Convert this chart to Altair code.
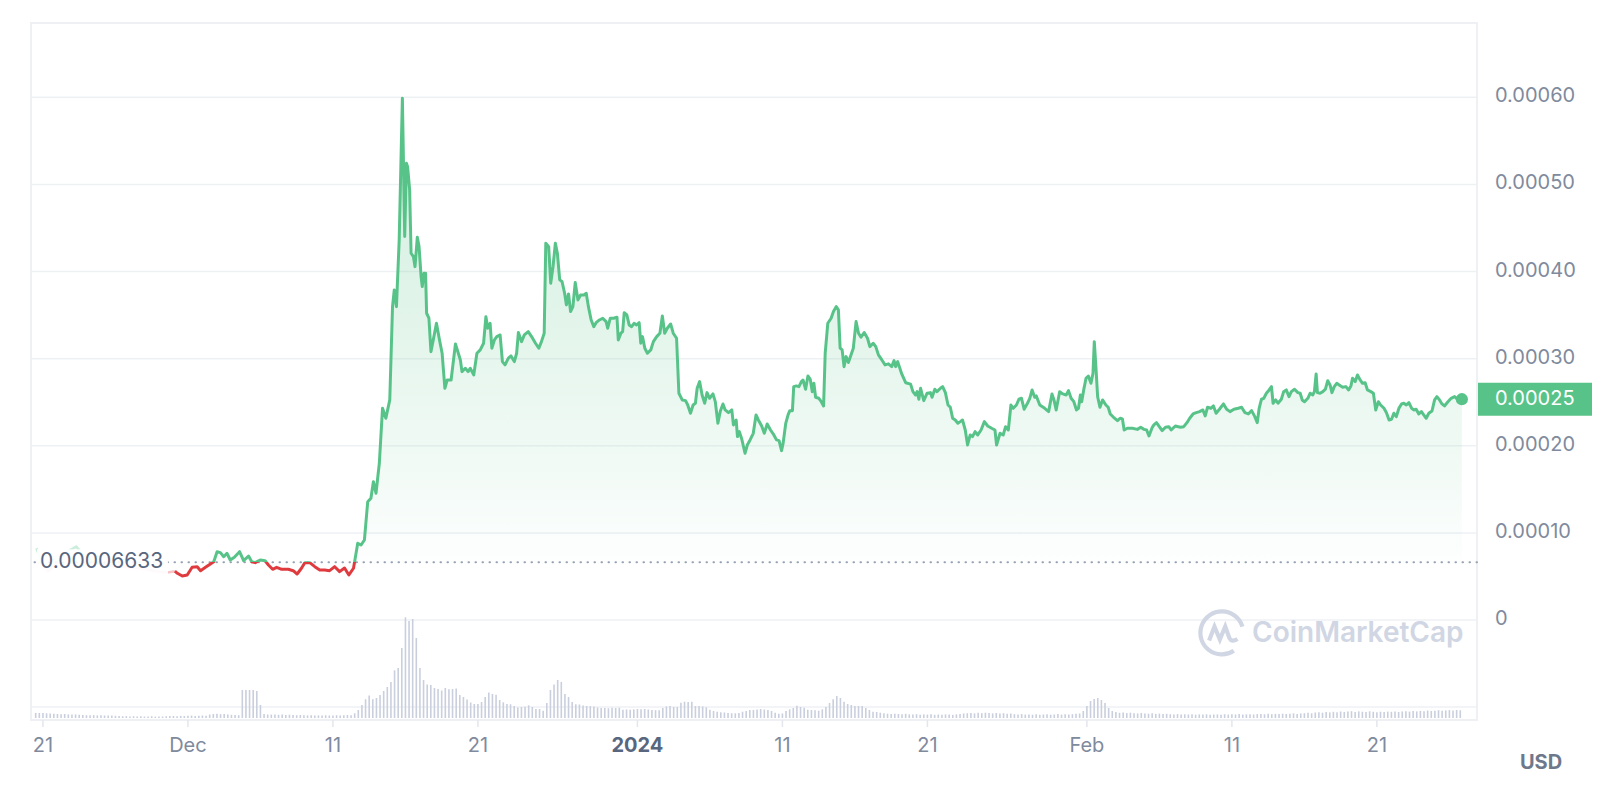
import altair as alt
import pandas as pd

START = pd.Timestamp("2023-11-21")
BASE = 0.00006633

# faded lead-in (days after 2023-11-21, price USD)
lead_days = [-0.45, -0.10, 0.35, 0.90, 1.50, 2.30, 2.90, 3.60, 4.50, 5.50, 6.50, 7.20, 7.90, 8.60, 9.10]
lead_price = [8.23e-5, 6.70e-5, 5.60e-5, 6.40e-5, 7.69e-5, 8.42e-5, 7.27e-5, 6.60e-5, 6.30e-5,
              6.10e-5, 6.00e-5, 5.80e-5, 5.55e-5, 5.45e-5, 5.60e-5]

# main series (days after 2023-11-21, price USD)
days = [
    9.10, 9.27, 9.61, 9.95, 10.29, 10.64, 10.87, 11.21, 11.55, 11.78, 12.01, 12.24, 12.47, 12.69, 12.92,
    13.20, 13.56, 13.84, 14.18, 14.40, 14.64, 14.98, 15.32, 15.55, 15.84, 16.12, 16.46, 16.92, 17.26,
    17.53, 17.83, 18.06, 18.40, 18.75, 19.09, 19.43, 19.77, 20.12, 20.46, 20.80, 21.10, 21.42, 21.71,
    21.94, 22.17, 22.40, 22.62, 22.79, 22.97, 23.20, 23.42, 23.65, 23.92, 24.11, 24.23, 24.38, 24.57,
    24.79, 24.95, 25.07, 25.15, 25.29, 25.39, 25.55, 25.66, 25.82, 25.94, 26.08, 26.16, 26.28, 26.39,
    26.46, 26.62, 26.76, 26.92, 27.14, 27.35, 27.53, 27.72, 27.88, 28.15, 28.45, 28.79, 28.90, 29.13,
    29.32, 29.47, 29.71, 29.93, 30.16, 30.39, 30.55, 30.68, 30.84, 30.96, 31.14, 31.30, 31.53, 31.69,
    31.87, 32.10, 32.28, 32.51, 32.67, 32.79, 33.01, 33.20, 33.47, 33.70, 33.97, 34.20, 34.38, 34.57,
    34.68, 34.88, 35.02, 35.18, 35.34, 35.48, 35.64, 35.80, 35.98, 36.10, 36.25, 36.39, 36.55, 36.71,
    36.90, 37.08, 37.31, 37.47, 37.62, 37.81, 37.99, 38.15, 38.38, 38.61, 38.84, 38.95, 39.13, 39.36,
    39.59, 39.68, 39.86, 39.98, 40.09, 40.27, 40.43, 40.60, 40.77, 40.94, 41.12, 41.23, 41.35, 41.51,
    41.69, 41.92, 42.10, 42.33, 42.55, 42.72, 42.88, 43.06, 43.29, 43.47, 43.70, 43.86, 44.09, 44.32,
    44.47, 44.66, 44.84, 45.00, 45.12, 45.29, 45.46, 45.64, 45.80, 45.98, 46.21, 46.37, 46.55, 46.71,
    46.90, 47.05, 47.28, 47.51, 47.62, 47.81, 47.90, 48.03, 48.20, 48.42, 48.58, 48.77, 48.99, 49.18,
    49.34, 49.57, 49.75, 49.95, 50.18, 50.41, 50.59, 50.77, 50.94, 51.05, 51.23, 51.39, 51.51, 51.69,
    51.78, 51.96, 52.14, 52.31, 52.42, 52.60, 52.76, 52.92, 53.06, 53.17, 53.29, 53.51, 53.68, 53.84,
    53.95, 54.13, 54.36, 54.52, 54.71, 54.86, 54.98, 55.12, 55.25, 55.39, 55.55, 55.73, 55.89, 56.08,
    56.25, 56.42, 56.64, 56.87, 57.03, 57.26, 57.44, 57.62, 57.86, 58.08, 58.31, 58.54, 58.70, 58.81,
    58.95, 59.04, 59.23, 59.50, 59.84, 60.00, 60.18, 60.29, 60.41, 60.53, 60.75, 60.98, 61.21, 61.32,
    61.51, 61.66, 61.90, 62.05, 62.24, 62.42, 62.58, 62.74, 62.92, 63.10, 63.27, 63.42, 63.61, 63.77,
    63.95, 64.11, 64.29, 64.47, 64.70, 64.93, 65.16, 65.43, 65.66, 65.77, 66.01, 66.23, 66.39, 66.58,
    66.76, 66.92, 67.14, 67.31, 67.49, 67.67, 67.90, 68.06, 68.22, 68.40, 68.51, 68.75, 69.09, 69.36,
    69.59, 69.73, 69.88, 70.12, 70.34, 70.57, 70.73, 70.91, 71.10, 71.28, 71.42, 71.55, 71.64, 71.78,
    71.94, 72.10, 72.28, 72.42, 72.51, 72.62, 72.74, 72.90, 73.08, 73.31, 73.47, 73.61, 73.84, 74.11,
    74.29, 74.45, 74.57, 74.79, 75.14, 75.48, 75.71, 75.94, 76.12, 76.28, 76.51, 76.62, 76.80, 77.03,
    77.19, 77.42, 77.65, 77.81, 78.10, 78.45, 78.68, 78.90, 79.09, 79.32, 79.54, 79.77, 80.00, 80.16,
    80.32, 80.55, 80.73, 80.91, 81.14, 81.42, 81.64, 81.87, 82.14, 82.44, 82.67, 82.90, 83.13, 83.36,
    83.58, 83.75, 83.88, 84.04, 84.20, 84.38, 84.57, 84.73, 84.84, 85.02, 85.18, 85.41, 85.57, 85.75,
    85.94, 86.10, 86.32, 86.55, 86.71, 86.85, 87.01, 87.24, 87.40, 87.58, 87.69, 87.81, 87.90, 88.08,
    88.27, 88.45, 88.61, 88.77, 88.90, 89.06, 89.23, 89.40, 89.64, 89.86, 90.05, 90.21, 90.32, 90.50,
    90.66, 90.82, 91.01, 91.19, 91.35, 91.58, 91.76, 91.92, 92.10, 92.26, 92.49, 92.66, 92.84, 93.01,
    93.17, 93.34, 93.52, 93.70, 93.86, 94.03, 94.21, 94.40, 94.54, 94.71, 94.89, 95.07, 95.23, 95.40,
    95.58, 95.80, 95.98, 96.14, 96.32, 96.49, 96.66, 96.90, 97.12, 97.36, 97.62, 97.86,
]
price = [
    5.60e-5, 5.36e-5, 5.05e-5, 5.17e-5, 6.05e-5, 6.12e-5, 5.66e-5, 6.05e-5, 6.43e-5, 6.69e-5, 7.84e-5,
    7.73e-5, 7.27e-5, 7.66e-5, 6.89e-5, 7.20e-5, 7.84e-5, 6.81e-5, 7.35e-5, 6.69e-5, 6.58e-5, 6.89e-5,
    6.81e-5, 6.31e-5, 5.82e-5, 6.05e-5, 5.82e-5, 5.82e-5, 5.66e-5, 5.28e-5, 5.94e-5, 6.58e-5, 6.58e-5,
    6.12e-5, 5.74e-5, 5.74e-5, 5.66e-5, 6.12e-5, 5.55e-5, 5.97e-5, 5.17e-5, 5.94e-5, 8.81e-5, 8.61e-5,
    9.18e-5, 1.358e-4, 1.397e-4, 1.588e-4, 1.455e-4, 1.799e-4, 2.431e-4, 2.316e-4, 2.526e-4, 3.597e-4,
    3.789e-4, 3.597e-4, 4.363e-4, 5.99e-4, 4.401e-4, 5.243e-4, 5.20e-4, 4.94e-4, 4.21e-4, 4.171e-4,
    4.056e-4, 4.394e-4, 4.286e-4, 3.941e-4, 3.827e-4, 3.98e-4, 3.98e-4, 3.521e-4, 3.464e-4, 3.08e-4,
    3.215e-4, 3.406e-4, 3.215e-4, 3.062e-4, 2.66e-4, 2.755e-4, 2.755e-4, 3.169e-4, 2.985e-4, 2.851e-4,
    2.89e-4, 2.851e-4, 2.89e-4, 2.813e-4, 3.062e-4, 3.10e-4, 3.177e-4, 3.482e-4, 3.349e-4, 3.406e-4,
    3.12e-4, 3.215e-4, 3.253e-4, 3.272e-4, 2.966e-4, 2.928e-4, 3.005e-4, 3.031e-4, 2.966e-4, 3.062e-4,
    3.299e-4, 3.195e-4, 3.272e-4, 3.31e-4, 3.253e-4, 3.177e-4, 3.12e-4, 3.195e-4, 3.292e-4, 4.325e-4,
    4.286e-4, 3.866e-4, 4.056e-4, 4.325e-4, 4.21e-4, 3.904e-4, 3.885e-4, 3.751e-4, 3.617e-4, 3.743e-4,
    3.54e-4, 3.597e-4, 3.873e-4, 3.674e-4, 3.731e-4, 3.731e-4, 3.751e-4, 3.597e-4, 3.444e-4, 3.367e-4,
    3.413e-4, 3.444e-4, 3.464e-4, 3.425e-4, 3.349e-4, 3.464e-4, 3.464e-4, 3.476e-4, 3.215e-4, 3.292e-4,
    3.31e-4, 3.528e-4, 3.502e-4, 3.387e-4, 3.367e-4, 3.406e-4, 3.387e-4, 3.413e-4, 3.177e-4, 3.253e-4,
    3.12e-4, 3.062e-4, 3.10e-4, 3.195e-4, 3.253e-4, 3.292e-4, 3.49e-4, 3.292e-4, 3.349e-4, 3.398e-4,
    3.292e-4, 3.234e-4, 2.603e-4, 2.526e-4, 2.518e-4, 2.468e-4, 2.373e-4, 2.468e-4, 2.488e-4, 2.66e-4,
    2.736e-4, 2.583e-4, 2.488e-4, 2.61e-4, 2.545e-4, 2.595e-4, 2.506e-4, 2.258e-4, 2.392e-4, 2.48e-4,
    2.411e-4, 2.38e-4, 2.411e-4, 2.239e-4, 2.296e-4, 2.105e-4, 2.162e-4, 2.075e-4, 1.914e-4, 2.009e-4,
    2.067e-4, 2.143e-4, 2.354e-4, 2.296e-4, 2.227e-4, 2.143e-4, 2.25e-4, 2.181e-4, 2.124e-4, 2.067e-4,
    2.059e-4, 1.944e-4, 2.03e-4, 2.258e-4, 2.354e-4, 2.403e-4, 2.403e-4, 2.679e-4, 2.687e-4, 2.679e-4,
    2.736e-4, 2.755e-4, 2.649e-4, 2.801e-4, 2.763e-4, 2.621e-4, 2.717e-4, 2.557e-4, 2.545e-4, 2.506e-4,
    2.457e-4, 3.062e-4, 3.406e-4, 3.464e-4, 3.54e-4, 3.597e-4, 3.559e-4, 3.12e-4, 3.10e-4, 2.908e-4,
    3.023e-4, 2.955e-4, 3.043e-4, 3.12e-4, 3.425e-4, 3.292e-4, 3.246e-4, 3.299e-4, 3.234e-4, 3.138e-4,
    3.177e-4, 3.138e-4, 3.043e-4, 2.985e-4, 2.928e-4, 2.94e-4, 2.908e-4, 2.978e-4, 2.908e-4, 2.966e-4,
    2.92e-4, 2.824e-4, 2.724e-4, 2.708e-4, 2.621e-4, 2.583e-4, 2.621e-4, 2.534e-4, 2.66e-4, 2.518e-4,
    2.603e-4, 2.61e-4, 2.557e-4, 2.649e-4, 2.621e-4, 2.66e-4, 2.679e-4, 2.61e-4, 2.468e-4, 2.442e-4,
    2.316e-4, 2.296e-4, 2.258e-4, 2.277e-4, 2.296e-4, 2.181e-4, 2.009e-4, 2.124e-4, 2.105e-4, 2.162e-4,
    2.124e-4, 2.181e-4, 2.277e-4, 2.227e-4, 2.201e-4, 2.181e-4, 2.009e-4, 2.143e-4, 2.124e-4, 2.219e-4,
    2.181e-4, 2.468e-4, 2.43e-4, 2.468e-4, 2.534e-4, 2.545e-4, 2.419e-4, 2.488e-4, 2.545e-4, 2.641e-4,
    2.557e-4, 2.572e-4, 2.468e-4, 2.43e-4, 2.392e-4, 2.595e-4, 2.526e-4, 2.411e-4, 2.621e-4, 2.595e-4,
    2.583e-4, 2.633e-4, 2.545e-4, 2.506e-4, 2.411e-4, 2.43e-4, 2.583e-4, 2.506e-4, 2.641e-4, 2.775e-4,
    2.801e-4, 2.717e-4, 2.832e-4, 3.195e-4, 2.908e-4, 2.564e-4, 2.442e-4, 2.526e-4, 2.468e-4, 2.442e-4,
    2.365e-4, 2.327e-4, 2.288e-4, 2.316e-4, 2.308e-4, 2.181e-4, 2.201e-4, 2.201e-4, 2.188e-4, 2.212e-4,
    2.188e-4, 2.181e-4, 2.113e-4, 2.212e-4, 2.239e-4, 2.265e-4, 2.212e-4, 2.174e-4, 2.212e-4, 2.219e-4,
    2.181e-4, 2.227e-4, 2.212e-4, 2.219e-4, 2.265e-4, 2.316e-4, 2.365e-4, 2.38e-4, 2.392e-4, 2.411e-4,
    2.342e-4, 2.442e-4, 2.43e-4, 2.457e-4, 2.373e-4, 2.419e-4, 2.48e-4, 2.419e-4, 2.392e-4, 2.419e-4,
    2.43e-4, 2.442e-4, 2.38e-4, 2.365e-4, 2.403e-4, 2.334e-4, 2.265e-4, 2.43e-4, 2.534e-4, 2.545e-4,
    2.603e-4, 2.641e-4, 2.679e-4, 2.488e-4, 2.526e-4, 2.488e-4, 2.534e-4, 2.621e-4, 2.641e-4, 2.564e-4,
    2.621e-4, 2.649e-4, 2.61e-4, 2.603e-4, 2.526e-4, 2.506e-4, 2.545e-4, 2.603e-4, 2.583e-4, 2.621e-4,
    2.824e-4, 2.61e-4, 2.603e-4, 2.621e-4, 2.649e-4, 2.747e-4, 2.698e-4, 2.61e-4, 2.679e-4, 2.717e-4,
    2.698e-4, 2.672e-4, 2.679e-4, 2.641e-4, 2.687e-4, 2.775e-4, 2.736e-4, 2.813e-4, 2.763e-4, 2.717e-4,
    2.724e-4, 2.641e-4, 2.621e-4, 2.603e-4, 2.411e-4, 2.506e-4, 2.468e-4, 2.43e-4, 2.38e-4, 2.296e-4,
    2.304e-4, 2.373e-4, 2.334e-4, 2.43e-4, 2.48e-4, 2.488e-4, 2.468e-4, 2.495e-4, 2.43e-4, 2.411e-4,
    2.419e-4, 2.365e-4, 2.392e-4, 2.354e-4, 2.316e-4, 2.373e-4, 2.399e-4, 2.526e-4, 2.564e-4, 2.526e-4,
    2.48e-4, 2.457e-4, 2.506e-4, 2.545e-4, 2.564e-4, 2.526e-4, 2.534e-4,
]

# volume (relative units), 4 samples per day starting 2023-11-20 12:00
vol = [
    5, 5,
    5, 4.7, 4.5, 4.2,   4, 3.8, 4, 3.6,   3.5, 3.6, 3.2, 3,   2.8, 2.7, 2.9, 2.6,
    2.7, 2.5, 2.4, 2.6,   2.2, 2, 1.8, 1.9,   1.6, 1.8, 1.5, 1.7,   1.5, 1.6, 1.8, 1.4,
    1.6, 1.5, 1.7, 1.9,   2, 1.8, 2.1, 1.9,   2.2, 2.4, 2, 2.3,   2.5, 2.2, 3.5, 4,
    4.2, 3.8, 4, 3.5,   3.2, 3, 2.8, 28,   28, 28, 28, 27,   13, 4, 3.5, 3.4,
    3.6, 3.2, 3.5, 3,   3.3, 3, 2.8, 3,   2.7, 2.6, 2.8, 2.5,   2.6, 2.4, 2.7, 2.5,
    2.6, 2.8, 2.5, 2.7,   3, 2.8, 4.7, 8,   13, 18.7, 22.5, 18.7,   20, 23, 27, 31,
    36, 47.7, 50, 70,   100.7, 97, 99, 80,   50, 38, 33.5, 33,   30, 29, 27.5, 30,
    28.7, 29, 29.5, 23,   21, 18.5, 15.5, 14,   14, 16, 21, 25.5,   24, 23.3, 18, 15.7,
    14, 13.7, 12, 10.5,   11, 11.3, 12.7, 11,   9, 9, 7.3, 15,   28, 33.5, 38, 36,
    24, 21, 16, 13.7,   13.5, 12.5, 12, 11.8,   11.5, 10.5, 10, 10,   9.7, 10.3, 10, 10.3,
    8.3, 8.5, 8.3, 8.6,   9, 8.8, 9, 8.5,   8, 7.8, 7.7, 10,   11.5, 12, 11, 11,
    15.3, 16.3, 16, 16.3,   12, 12, 11.5, 10.7,   8.3, 7, 6.3, 5.7,   5.5, 5, 4.7, 4.7,
    5, 6.3, 7, 8,   8, 8.5, 9, 8.5,   8, 7, 5.3, 4.3,   4.5, 7, 8.7, 10,
    12.3, 11, 10.3, 8.3,   8, 7.8, 7.3, 8.7,   11, 15, 18.7, 22,   20, 16.3, 14, 13,
    12, 12, 12, 10,   8, 6.3, 6, 5.3,   4.7, 4.3, 4, 4.3,   4, 3.8, 4.2, 3.6,
    3.5, 3.8, 3.2, 3.6,   3.4, 3.7, 3.2, 3.5,   3.3, 3.6, 3.4, 3.1,   3.6, 3.9, 4.5, 4.8,
    5, 4.6, 5.2, 4.8,   5.3, 4.9, 4.6, 5,   4.4, 4.8, 4.2, 4.5,   3.8, 3.5, 3.9, 3.4,
    3.6, 3.3, 3.7, 3.2,   3.5, 3.8, 3.3, 3.6,   3.9, 3.4, 3.7, 3.5,   3.8, 4.2, 4.5, 7,
    12, 17, 19, 20,   18, 15, 10, 7,   6, 5.2, 5.6, 4.9,   5.3, 4.8, 4.5, 5,
    4.6, 4.3, 4.7, 4.1,   4.4, 3.9, 4.2, 3.8,   3.6, 3.9, 3.4, 3.7,   3.5, 3.8, 3.3, 3.6,
    3.4, 3.7, 3.2, 3.5,   3.6, 3.3, 3.8, 3.4,   3.7, 3.5, 3.9, 3.4,   3.6, 3.8, 3.5, 3.9,
    4, 3.7, 4.2, 3.8,   4.1, 3.9, 4.3, 4,   4.2, 4.6, 4.1, 4.5,   4.8, 5.2, 4.7, 5.5,
    5.8, 5.3, 6, 5.6,   6.2, 5.8, 6.5, 6,   6.4, 6.8, 6.1, 6.6,   6.3, 6, 6.7, 6.2,
    5.8, 6.3, 5.9, 6.4,   6.2, 6.6, 6, 6.5,   6.8, 6.4, 7, 6.6,   7.1, 6.7, 7.4, 7,
    7.3, 7.8, 7.2, 7.6,   7.9, 7.4, 8, 7.7,
]
vol_days = [-0.5 + 0.25 * i for i in range(len(vol))]

# axis ticks
x_tick_dates = ["2023-11-21", "2023-12-01", "2023-12-11", "2023-12-21", "2024-01-01",
                "2024-01-11", "2024-01-21", "2024-02-01", "2024-02-11", "2024-02-21"]
x_tick_labels = ["21", "Dec", "11", "21", "2024", "11", "21", "Feb", "11", "21"]
y_grid_values = [-0.0001, 0.0, 0.0001, 0.0002, 0.0003, 0.0004, 0.0005, 0.0006]
y_tick_labels = ["", "0", "0.00010", "0.00020", "0.00030", "0.00040", "0.00050", "0.00060"]

GREEN = "#58c389"
RED = "#df3b3f"
GRID = "#eef1f4"
LABEL = "#808a9d"
WM = "#d0d6e3"
H = 697


def ts(d):
    return (START + pd.Timedelta(days=d)).strftime("%Y-%m-%dT%H:%M:%S")


price_df = pd.DataFrame({"t": [ts(d) for d in days], "price": price})
lead_df = pd.DataFrame({"t": [ts(d) for d in lead_days], "price": lead_price})
vol_df = pd.DataFrame({"t": [ts(d) for d in vol_days], "vol": vol})
last_df = price_df.tail(1)
one = pd.DataFrame({"a": [0]})
xt_df = pd.DataFrame({"t": [d + "T00:00:00" for d in x_tick_dates], "lab": x_tick_labels,
                      "bold": [lab == "2024" for lab in x_tick_labels]})
yg_df = pd.DataFrame({"v": y_grid_values, "lab": y_tick_labels})

x_scale = alt.Scale(
    domain=[alt.DateTime(year=2023, month=11, date=20, hours=12, minutes=30),
            alt.DateTime(year=2024, month=2, date=27, hours=13, minutes=26)],
    nice=False,
)
price_scale = alt.Scale(domain=[-1.1478e-4, 6.8526e-4], nice=False, zero=False)
X = alt.X("t:T", scale=x_scale, axis=None)


def vgrad(stops):
    return alt.Gradient(
        gradient="linear",
        stops=[alt.GradientStop(offset=o, color=c) for o, c in stops],
        x1=0, x2=0, y1=0, y2=1,
    )


pmax, pmin = max(price), min(price)
off = (pmax - BASE) / (pmax - pmin)
lmax, lmin = max(lead_price), min(lead_price)
loff = (lmax - BASE) / (lmax - lmin)

line_grad = vgrad([(0, GREEN), (off, GREEN), (off, RED), (1, RED)])
lead_grad = vgrad([(0, GREEN), (loff, GREEN), (loff, RED), (1, RED)])
area_grad = vgrad([
    (0, "rgba(88,195,137,0.28)"),
    (0.5, "rgba(88,195,137,0.16)"),
    (0.8, "rgba(88,195,137,0.07)"),
    (1, "rgba(88,195,137,0.0)"),
])


def Yp(field="price:Q"):
    return alt.Y(field, scale=price_scale, axis=None)


# y grid lines + labels (right side)
y_grid = alt.Chart(yg_df).mark_rule(color=GRID, strokeWidth=1.5).encode(y=Yp("v:Q"))
y_labels = alt.Chart(yg_df).mark_text(
    align="left", baseline="middle", fontSize=20, color=LABEL, dy=-1
).encode(x=alt.value(1464), y=Yp("v:Q"), text="lab:N")

# x ticks + labels
x_ticks = alt.Chart(xt_df).mark_rule(color="#e3e6ec", strokeWidth=1.5).encode(
    x=X, y=alt.value(H), y2=alt.value(H + 7)
)
x_labels = alt.Chart(xt_df).transform_filter("!datum.bold").mark_text(
    baseline="middle", fontSize=20, color=LABEL
).encode(x=X, y=alt.value(H + 26), text="lab:N")
x_year = alt.Chart(xt_df).transform_filter("datum.bold").mark_text(
    baseline="middle", fontSize=20, color="#58667e", fontWeight="bold"
).encode(x=X, y=alt.value(H + 26), text="lab:N")

vol_chart = alt.Chart(vol_df).mark_bar(width=1.6, color="#c9cfdd").encode(
    x=X,
    y=alt.Y("vol:Q", scale=alt.Scale(domain=[-2, 695], nice=False, zero=False), axis=None),
)

area = alt.Chart(price_df).mark_area(color=area_grad).encode(
    x=X, y=Yp(), y2=alt.Y2Datum(BASE)
)
base_rule = alt.Chart(one).mark_rule(
    strokeDash=[0.5, 6.5], strokeCap="round", strokeWidth=2, color="#98a1b3"
).encode(y=alt.YDatum(BASE, scale=price_scale, axis=None))
lead_line = alt.Chart(lead_df).mark_line(color=lead_grad, strokeWidth=2.6, opacity=0.3).encode(
    x=X, y=Yp()
)
label_box = alt.Chart(one).mark_rect(color="white", opacity=0.9, yOffset=-13, y2Offset=13).encode(
    x=alt.value(6), x2=alt.value(137),
    y=alt.YDatum(BASE, scale=price_scale, axis=None), y2=alt.Y2Datum(BASE),
)
label_text = alt.Chart(one).mark_text(
    text=f"{BASE:.8f}", align="left", baseline="middle", fontSize=21, color="#58667e"
).encode(x=alt.value(9), y=alt.YDatum(BASE, scale=price_scale, axis=None))
main_line = alt.Chart(price_df).mark_line(color=line_grad, strokeWidth=3, strokeJoin="round").encode(
    x=X, y=Yp()
)
end_dot = alt.Chart(last_df).mark_circle(size=150, color=GREEN, opacity=1).encode(x=X, y=Yp())
tag_box = alt.Chart(last_df).mark_rect(color=GREEN, yOffset=-16.5, y2Offset=16.5).encode(
    x=alt.value(1447), x2=alt.value(1561), y=Yp(), y2="price:Q"
)
tag_text = alt.Chart(last_df).mark_text(
    align="left", baseline="middle", fontSize=20, color="white"
).encode(x=alt.value(1464), y=Yp(), text=alt.Text("price:Q", format=".5f"))

usd = alt.Chart(one).mark_text(
    text="USD", fontSize=20, fontWeight="bold", color="#6e788c", align="center", baseline="middle"
).encode(x=alt.value(1510), y=alt.value(740))

logo_path = ("M 0.95 -0.3 A 1 1 0 1 0 0.55 0.83 "
             "M -0.6 0.35 L -0.35 -0.3 L -0.1 0.3 L 0.15 -0.3 L 0.35 0.25 Q 0.45 0.45 0.72 0.28")
wm_logo = alt.Chart(one).mark_point(
    shape=logo_path, size=1850, filled=False, strokeWidth=4.2, color=WM, opacity=1
).encode(x=alt.value(1191), y=alt.value(610))
wm_text = alt.Chart(one).mark_text(
    text="CoinMarketCap", fontSize=28, fontWeight=600, color=WM, align="left", baseline="middle"
).encode(x=alt.value(1221), y=alt.value(611))

chart = alt.layer(
    y_grid, vol_chart, area, base_rule, lead_line, label_box, label_text, main_line, end_dot,
    tag_box, tag_text, y_labels, x_ticks, x_labels, x_year, usd, wm_logo, wm_text,
).resolve_scale(y="independent").properties(
    width=1446,
    height=H,
    autosize=alt.AutoSizeParams(type="none"),
    padding={"left": 31, "top": 23, "right": 123, "bottom": 68},
    background="white",
).configure(font="Inter").configure_view(stroke="#eef0f4", strokeWidth=2)

chart.save("out.html", embed_options={"renderer": "svg", "actions": False})
